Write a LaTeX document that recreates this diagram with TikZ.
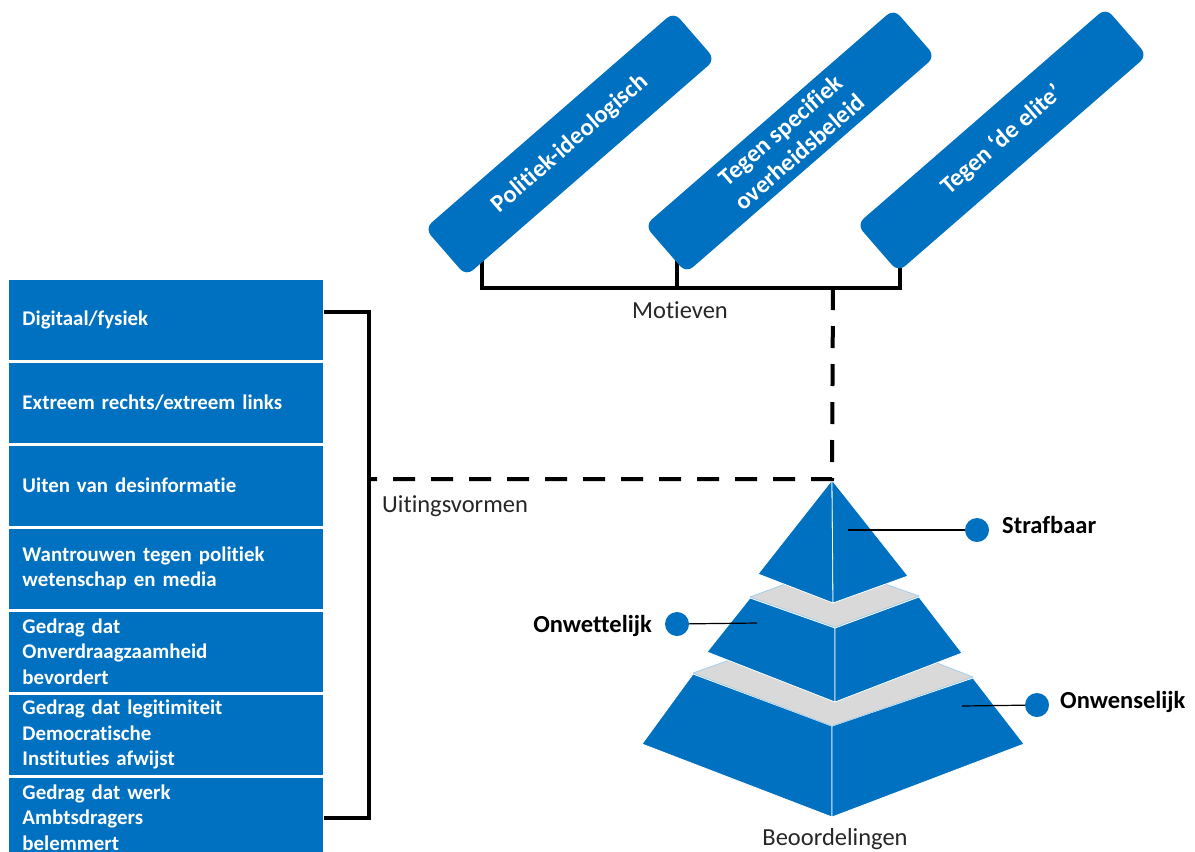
\documentclass[tikz,border=0pt]{standalone}
\usepackage{fontspec}
\setmainfont{Carlito}[Ligatures={NoCommon}]
\usetikzlibrary{calc}
\definecolor{pblue}{HTML}{0070C0}
\definecolor{pgray}{HTML}{D9D9D9}
\definecolor{ptext}{HTML}{262626}
\begin{document}
\begin{tikzpicture}[x=1pt,y=-1pt,
  lbox/.style={fill=pblue, draw=white, line width=1pt, anchor=west, minimum height=81pt,
    text width=287pt, inner xsep=14pt, inner ysep=0pt, align=left, text=white,
    font=\fontsize{20.9}{25.5}\selectfont\bfseries},
  mbox/.style={fill=pblue, rounded corners=9pt, rotate=41, minimum width=330pt,
    minimum height=63pt, inner sep=0pt, align=center, text=white,
    font=\fontsize{24.5}{29}\selectfont\bfseries},
  lab/.style={inner sep=0pt, text=ptext, font=\fontsize{24.5}{29}\selectfont},
  blab/.style={inner sep=0pt, text=black, font=\fontsize{24.5}{29}\selectfont\bfseries},
  bracket/.style={line width=4pt, line join=miter, black},
  dashline/.style={line width=4pt, black, dash pattern=on 22pt off 16pt},
  face/.style={fill=pblue, draw=white, line width=0.8pt, line join=round},
  band/.style={fill=pgray, draw=pblue!35!white, line width=0.8pt, line join=round},
  dot/.style={circle, fill=pblue, minimum size=24pt, inner sep=0pt},
  leader/.style={line width=1.2pt, black}
]
\useasboundingbox (0,0) rectangle (1195,852);
\clip (0,0) rectangle (1195,852);

% ---- Motieven bracket (under the boxes)
\coordinate (f1) at (482,255);
\coordinate (f2) at (677,255);
\coordinate (f3) at (900,262);
\coordinate (mt) at (833,288);
\draw[bracket] (f1) |- (mt) -| (f3);
\draw[bracket] (f2) -- (f2 |- mt);

% ---- rotated motive boxes
\node[mbox] (m1) at (570,144) {Politiek-ideologisch};
\node[mbox] (m2) at (790,141) {Tegen specifiek\\overheidsbeleid};
\node[mbox] (m3) at (1002,140) {Tegen ‘de elite’};

\node[lab, anchor=base] (motl) at (680,318) {Motieven};

% ---- left boxes
\node[lbox] (b1) at (8,319.5) {Digitaal/fysiek};
\node[lbox] (b2) at (8,402.5) {Extreem rechts/extreem links};
\node[lbox] (b3) at (8,485.5) {Uiten van desinformatie};
\node[lbox] (b4) at (8,568.5) {Wantrouwen tegen politiek\\wetenschap en media};
\node[lbox] (b5) at (8,651.5) {Gedrag dat\\Onverdraagzaamheid\\bevordert};
\node[lbox] (b6) at (8,734.5) {Gedrag dat legitimiteit\\Democratische\\Instituties afwijst};
\node[lbox] (b7) at (8,817.5) {Gedrag dat werk\\Ambtsdragers\\belemmert};

\draw[bracket] ([yshift=7.5pt]b1.east) -- ++(45,0) |- (b7.east);
\node[lab, anchor=base west] (uitl) at (382,512) {Uitingsvormen};

% ---- pyramid
\coordinate (apex) at (832,480);
% bottom tier
\draw[face] (693,674) -- (832,726) -- (832,817) -- (642,744) -- cycle;
\draw[face] (832,726) -- (973,678) -- (1024,744) -- (832,817) -- cycle;
\draw[band] (693,673) -- (832,726) -- (973,677) -- (834,623) -- cycle;
% middle tier
\draw[face] (750,598) -- (835,628) -- (835,702) -- (707,652) -- cycle;
\draw[face] (835,628) -- (919,597) -- (962,653) -- (835,702) -- cycle;
\draw[band] (750,597) -- (835,627) -- (919,596) -- (834,566) -- cycle;
% top tier
\draw[face] (apex) -- (833,603) -- (758,574) -- cycle;
\draw[face] (apex) -- (908,576) -- (833,603) -- cycle;

% ---- dashed link Motieven -> pyramid -> Uitingsvormen
\coordinate (ut) at (368,479);
\draw[dashline] (mt) -- (apex |- 0,479) -- (ut);

% ---- level labels
\node[dot] (d1) at (977,530) {};
\node[blab, anchor=base west] (l1) at (1002,533) {Strafbaar};
\coordinate (p1) at (848,530);
\draw[leader] (p1) -- (d1);

\node[dot] (d2) at (677,624) {};
\node[blab, anchor=base east] (l2) at (652,632) {Onwettelijk};
\coordinate (p2) at (757,623);
\draw[leader] (d2) -- (p2);

\node[dot] (d3) at (1037,705) {};
\node[blab, anchor=base west] (l3) at (1060,708) {Onwenselijk};
\coordinate (p3) at (962,706);
\draw[leader] (p3) -- (d3);

\node[lab, anchor=base] (beol) at (835,845) {Beoordelingen};
\end{tikzpicture}
\end{document}
